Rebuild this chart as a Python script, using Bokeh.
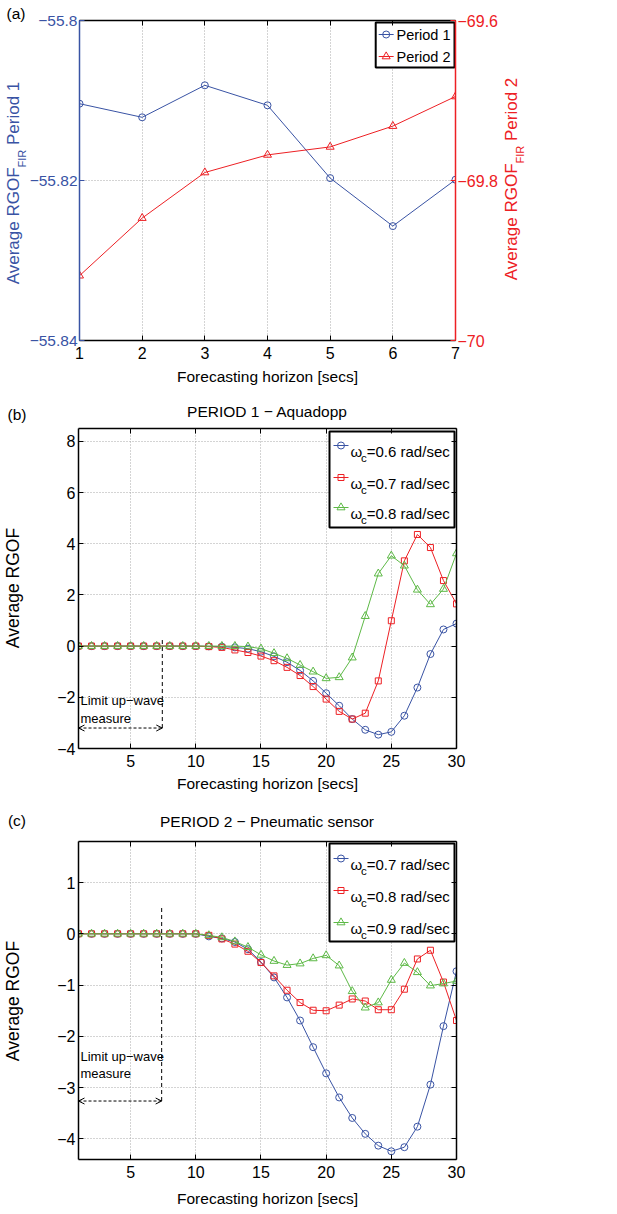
from bokeh.plotting import figure
from bokeh.models import (Range1d, LinearAxis, FixedTicker, Label, Arrow, OpenHead,
                          CustomJSTickFormatter, Div)
from bokeh.layouts import column, row
from bokeh.embed import file_html
from bokeh.resources import INLINE

FONT = "Liberation Sans"
BLUE = "#3953A4"
RED = "#ED2024"
GREEN = "#5DB946"
GRID = "#A8A8A8"

# ---------------- data ----------------
horizon_a = [1, 2, 3, 4, 5, 6, 7]
period1 = [-55.8104, -55.8121, -55.8081, -55.8106, -55.8197, -55.8257, -55.8199]
period2 = [-69.919, -69.847, -69.790, -69.768, -69.758, -69.732, -69.695]

horizon = [1, 2, 3, 4, 5, 6, 7, 8, 9, 10, 11, 12, 13, 14, 15,
           16, 17, 18, 19, 20, 21, 22, 23, 24, 25, 26, 27, 28, 29, 30]

b_w06 = [0.00, 0.00, 0.00, 0.00, 0.00, 0.00, 0.00, 0.00, 0.00, 0.00,
         -0.01, -0.02, -0.05, -0.10, -0.22, -0.40, -0.63, -0.95, -1.36, -1.84,
         -2.33, -2.85, -3.27, -3.46, -3.35, -2.72, -1.62, -0.31, 0.65, 0.88]
b_w07 = [0.00, 0.00, 0.00, 0.00, 0.00, 0.00, 0.00, 0.00, 0.00, 0.00,
         -0.02, -0.05, -0.15, -0.25, -0.39, -0.57, -0.83, -1.15, -1.58, -2.07,
         -2.55, -2.85, -2.62, -1.36, 0.99, 3.33, 4.36, 3.85, 2.56, 1.65]
b_w08 = [0.00, 0.00, 0.00, 0.00, 0.00, 0.00, 0.00, 0.00, 0.00, 0.00,
         0.00, 0.00, 0.00, -0.02, -0.10, -0.28, -0.48, -0.74, -1.00, -1.26,
         -1.22, -0.45, 1.17, 2.83, 3.53, 3.14, 2.20, 1.63, 2.23, 3.62]

c_w07 = [0.00, 0.00, 0.00, 0.00, 0.00, 0.00, 0.00, 0.00, 0.00, 0.00,
         -0.05, -0.09, -0.16, -0.30, -0.55, -0.85, -1.24, -1.69, -2.21, -2.72,
         -3.19, -3.59, -3.90, -4.13, -4.24, -4.16, -3.76, -2.94, -1.80, -0.73]
c_w08 = [0.00, 0.00, 0.00, 0.00, 0.00, 0.00, 0.00, 0.00, 0.00, 0.00,
         -0.03, -0.10, -0.20, -0.34, -0.56, -0.82, -1.10, -1.34, -1.49, -1.50,
         -1.39, -1.27, -1.31, -1.48, -1.48, -1.08, -0.49, -0.32, -0.94, -1.69]
c_w09 = [0.00, 0.00, 0.00, 0.00, 0.00, 0.00, 0.00, 0.00, 0.00, 0.00,
         -0.03, -0.07, -0.15, -0.26, -0.41, -0.53, -0.61, -0.58, -0.48, -0.42,
         -0.62, -1.12, -1.44, -1.34, -0.90, -0.57, -0.75, -1.01, -0.97, -0.92]

ticks_a_x = [1, 2, 3, 4, 5, 6, 7]
ticks_a_y1 = [-55.84, -55.82, -55.8]
labels_a_y1 = ["−55.84", "−55.82", "−55.8"]
ticks_a_y2 = [-70.0, -69.8, -69.6]
labels_a_y2 = ["−70", "−69.8", "−69.6"]
ticks_x = [5, 10, 15, 20, 25, 30]
ticks_b_y = [-4, -2, 0, 2, 4, 6, 8]
labels_b_y = ["−4", "−2", "0", "2", "4", "6", "8"]
ticks_c_y = [-4, -3, -2, -1, 0, 1]
labels_c_y = ["−4", "−3", "−2", "−1", "0", "1"]

legend_b = ["0.6", "0.7", "0.8"]
legend_c = ["0.7", "0.8", "0.9"]
limit_b = (7.43, -3.2, 0.32)   # x of limit, y of arrow, top of dashed line
limit_c = (7.38, -3.26, 0.53)

# -------------- helpers ---------------
WID = {' ': 278, 'A': 667, 'v': 500, 'e': 556, 'r': 333, 'a': 556, 'g': 556, 'R': 722,
       'G': 778, 'O': 778, 'F': 611, 'I': 278, 'P': 667, 'i': 222, 'o': 556, 'd': 556,
       '1': 556, '2': 556, 'c': 500, '=': 584, '0': 556, '.': 278, '6': 556, '7': 556,
       '8': 556, '9': 556, '/': 278, 's': 500, 'ω': 700}

TICK_FS = "16px"
W_ALL = 617


def tw(s, size):
    return sum(WID.get(ch, 556) for ch in s) / 1000.0 * size


class Conv:
    """Pixel positions inside one figure (origin top-left of figure) -> data / frame units."""
    def __init__(self, xr, yr, L, R, T, B):
        self.xr, self.yr, self.L, self.R, self.T, self.B = xr, yr, L, R, T, B

    def X(self, sx):
        return self.xr[0] + (sx - self.L) / (self.R - self.L) * (self.xr[1] - self.xr[0])

    def Y(self, sy):
        return self.yr[1] - (sy - self.T) / (self.B - self.T) * (self.yr[1] - self.yr[0])

    def SX(self, sx):
        return sx - self.L

    def SY(self, sy):
        return self.B - sy


def style_axis(ax, ticks, color="black", overrides=None, show=True, standoff=4, fs=TICK_FS):
    ax.ticker = FixedTicker(ticks=ticks, minor_ticks=[])
    ax.axis_line_color = color
    ax.axis_line_width = 1.5
    ax.major_tick_line_color = color
    ax.major_tick_line_width = 1
    ax.major_tick_in = 5
    ax.major_tick_out = 0
    ax.minor_tick_line_color = None
    ax.major_label_text_color = color
    ax.major_label_text_font = FONT
    ax.major_label_text_font_size = fs
    ax.major_label_standoff = standoff
    if overrides:
        ax.major_label_overrides = overrides
    if not show:
        ax.formatter = CustomJSTickFormatter(code="return ''")
        ax.major_label_standoff = 0
        ax.major_label_text_font_size = "0px"


def set_label(ax, txt, standoff):
    ax.axis_label = txt
    ax.axis_label_text_font = FONT
    ax.axis_label_text_font_size = "15.5px"
    ax.axis_label_text_font_style = "normal"
    ax.axis_label_text_color = "black"
    ax.axis_label_standoff = standoff


def make_fig(width, height, xr, yr, L, R, T, B):
    # L, R: frame edges in figure pixels; T, B: frame top/bottom in figure pixels
    p = figure(width=width, height=height, x_range=Range1d(*xr), y_range=Range1d(*yr),
               output_backend="svg", toolbar_location=None,
               min_border_left=L, min_border_right=width - R,
               min_border_top=T, min_border_bottom=height - B)
    p.outline_line_color = None
    p.background_fill_color = "white"
    p.border_fill_color = "white"
    for g in (p.xgrid[0], p.ygrid[0]):
        g.grid_line_color = GRID
        g.grid_line_dash = "1 2"
        g.grid_line_width = 1
    return p, Conv(xr, yr, L, R, T, B)


def text(p, c, sx, sy, s, size="15.5px", color="black", align="left", baseline="middle"):
    p.add_layout(Label(x=c.SX(sx), y=c.SY(sy), x_units="screen", y_units="screen",
                       text=s, text_font=FONT, text_font_size=size,
                       text_color=color, text_align=align, text_baseline=baseline))


def legend_box(p, c, l, t, r, b):
    p.quad(left=[c.X(l)], right=[c.X(r)], top=[c.Y(t)], bottom=[c.Y(b)],
           fill_color="white", line_color="black", line_width=2)


def legend_sample(p, c, x1, x2, sy, color, marker, size):
    p.line([c.X(x1), c.X(x2)], [c.Y(sy), c.Y(sy)], line_color=color, line_width=1)
    p.scatter([c.X((x1 + x2) / 2.0)], [c.Y(sy)], marker=marker, size=size,
              line_color=color, fill_color=None, line_width=1)


def omega_entry(p, c, sx, sy, val):
    fs, ss = 15, 11.5
    base = sy + 5.5
    text(p, c, sx, base, "ω", f"{fs}px", baseline="alphabetic")
    x = sx + tw("ω", fs)
    text(p, c, x, base + 7, "c", f"{ss}px", baseline="alphabetic")
    x += tw("c", ss)
    text(p, c, x, base, f"={val} rad/sec", f"{fs}px", baseline="alphabetic")


def limit_annot(p, c, lim):
    lx, ay, top = lim
    p.segment(x0=[lx], y0=[ay], x1=[lx], y1=[top], line_color="black",
              line_dash="4 3", line_width=1)
    p.add_layout(Arrow(start=OpenHead(size=6, line_width=1), end=OpenHead(size=6, line_width=1),
                       x_start=p.x_range.start, y_start=ay, x_end=lx, y_end=ay,
                       line_dash="3 2", line_width=1, line_color="black"))


def abs_text(x, y, html, size, color="black", rotate=False, center=True):
    tr = "translate(-50%,-50%)" if center else "translate(0,-50%)"
    if rotate:
        tr += " rotate(-90deg)"
    return (f'<div style="position:absolute;left:{x}px;top:{y}px;transform:{tr};'
            f'white-space:nowrap;font-family:\'Liberation Sans\',Arial,sans-serif;'
            f'font-size:{size}px;line-height:1;color:{color};">{html}</div>')


def side_div(width, height, items):
    html = (f'<div style="position:relative;width:{width}px;height:{height}px;'
            f'overflow:visible;margin:0;padding:0;">' + "".join(items) + '</div>')
    return Div(text=html, width=width, height=height, margin=0)


SUB = '<span style="font-size:11px;position:relative;top:7px;">FIR</span>'

# ---------------- panel (a) ----------------
HA = 400
OA = 26                       # width of left strip for panel (a)
FA_W = 502 - OA
pa, ca = make_fig(FA_W, HA, (1, 7), (-55.84, -55.8), 78 - OA, 455 - OA, 20, 340)
pa.extra_y_ranges = {"p2": Range1d(-70, -69.6)}
style_axis(pa.below[0], ticks_a_x, standoff=6)
set_label(pa.below[0], "Forecasting horizon [secs]", 6)
style_axis(pa.left[0], ticks_a_y1, color=BLUE,
           overrides=dict(zip(ticks_a_y1, labels_a_y1)), standoff=2, fs="15.5px")
ra = LinearAxis(y_range_name="p2")
pa.add_layout(ra, "right")
style_axis(ra, ticks_a_y2, color=RED, overrides=dict(zip(ticks_a_y2, labels_a_y2)), standoff=2)
ta = LinearAxis()
pa.add_layout(ta, "above")
style_axis(ta, ticks_a_x, show=False)

pa.line(horizon_a, period1, line_color=BLUE, line_width=1)
pa.scatter(horizon_a, period1, marker="circle", size=7, line_color=BLUE, fill_color=None)
pa.line(horizon_a, period2, line_color=RED, line_width=1, y_range_name="p2")
pa.scatter(horizon_a, period2, marker="triangle", size=8, line_color=RED, fill_color=None,
           y_range_name="p2")

legend_box(pa, ca, 375 - OA, 22, 454 - OA, 67)
legend_sample(pa, ca, 378 - OA, 393 - OA, 34, BLUE, "circle", 7)
legend_sample(pa, ca, 378 - OA, 393 - OA, 56, RED, "triangle", 8)
text(pa, ca, 395 - OA, 34, "Period 1", "14.5px")
text(pa, ca, 395 - OA, 56, "Period 2", "14.5px")

la = side_div(OA, HA, [
    abs_text(16, 14, "(a)", 15.5),
    abs_text(13, 183, "Average RGOF" + SUB + " Period 1", 17, BLUE, rotate=True),
])
ra_div = side_div(W_ALL - 502, HA, [
    abs_text(9, 179, "Average RGOF" + SUB + " Period 2", 17, RED, rotate=True),
])

# ---------------- panel (b) ----------------
HB_HEAD = 20
HB = 408 - HB_HEAD
OB = 26
FB_W = W_ALL - OB
pb, cb = make_fig(FB_W, HB, (1, 30), (-4, 8.5), 78 - OB, 456 - OB, 8, 328)
style_axis(pb.below[0], ticks_x, standoff=6)
set_label(pb.below[0], "Forecasting horizon [secs]", 5)
style_axis(pb.left[0], ticks_b_y, overrides=dict(zip(ticks_b_y, labels_b_y)), standoff=3)
tb = LinearAxis()
pb.add_layout(tb, "above")
style_axis(tb, ticks_x, show=False)
rb = LinearAxis()
pb.add_layout(rb, "right")
style_axis(rb, ticks_b_y, show=False)

for ys, col, mk, sz in ((b_w06, BLUE, "circle", 7), (b_w07, RED, "square", 6),
                        (b_w08, GREEN, "triangle", 8)):
    pb.line(horizon, ys, line_color=col, line_width=1)
    pb.scatter(horizon, ys, marker=mk, size=sz, line_color=col, fill_color=None)

yb = -HB_HEAD   # shift from panel coordinates to figure coordinates
limit_annot(pb, cb, limit_b)
text(pb, cb, 80 - OB, 300 + yb, "Limit up−wave", "13px")
text(pb, cb, 80 - OB, 318 + yb, "measure", "13px")

legend_box(pb, cb, 329 - OB, 31 + yb, 454 - OB, 127 + yb)
for sy, col, mk, sz, val in ((45, BLUE, "circle", 7, legend_b[0]),
                             (77, RED, "square", 6, legend_b[1]),
                             (107, GREEN, "triangle", 8, legend_b[2])):
    legend_sample(pb, cb, 333 - OB, 348 - OB, sy + yb, col, mk, sz)
    omega_entry(pb, cb, 350 - OB, sy + yb, val)

hb = side_div(W_ALL, HB_HEAD, [
    abs_text(17, 15, "(b)", 15.5),
    abs_text(267, 12, "PERIOD 1 − Aquadopp", 15.5),
])
lb = side_div(OB, HB, [
    abs_text(14, 188 + yb, "Average RGOF", 17.5, rotate=True),
])

# ---------------- panel (c) ----------------
HC_HEAD = 24
HC = 406 - HC_HEAD
pc, cc = make_fig(FB_W, HC, (1, 30), (-4.4, 1.8), 78 - OB, 456 - OB, 9, 327)
style_axis(pc.below[0], ticks_x, standoff=6)
set_label(pc.below[0], "Forecasting horizon [secs]", 9)
style_axis(pc.left[0], ticks_c_y, overrides=dict(zip(ticks_c_y, labels_c_y)), standoff=3)
tc = LinearAxis()
pc.add_layout(tc, "above")
style_axis(tc, ticks_x, show=False)
rc = LinearAxis()
pc.add_layout(rc, "right")
style_axis(rc, ticks_c_y, show=False)

for ys, col, mk, sz in ((c_w07, BLUE, "circle", 7), (c_w08, RED, "square", 6),
                        (c_w09, GREEN, "triangle", 8)):
    pc.line(horizon, ys, line_color=col, line_width=1)
    pc.scatter(horizon, ys, marker=mk, size=sz, line_color=col, fill_color=None)

yc = -HC_HEAD
limit_annot(pc, cc, limit_c)
text(pc, cc, 80 - OB, 248 + yc, "Limit up−wave", "13px")
text(pc, cc, 80 - OB, 265 + yc, "measure", "13px")

legend_box(pc, cc, 329 - OB, 35 + yc, 454 - OB, 133 + yc)
for sy, col, mk, sz, val in ((50, BLUE, "circle", 7, legend_c[0]),
                             (82, RED, "square", 6, legend_c[1]),
                             (114, GREEN, "triangle", 8, legend_c[2])):
    legend_sample(pc, cc, 333 - OB, 348 - OB, sy + yc, col, mk, sz)
    omega_entry(pc, cc, 350 - OB, sy + yc, val)

hc = side_div(W_ALL, HC_HEAD, [
    abs_text(17, 13, "(c)", 15.5),
    abs_text(267, 14, "PERIOD 2 − Pneumatic sensor", 15.5),
])
lc = side_div(OB, HC, [
    abs_text(14, 193 + yc, "Average RGOF", 17.5, rotate=True),
])

layout = column(row(la, pa, ra_div, spacing=0),
                hb, row(lb, pb, spacing=0),
                hc, row(lc, pc, spacing=0), spacing=0)
open("out.html", "w").write(file_html(layout, INLINE))
